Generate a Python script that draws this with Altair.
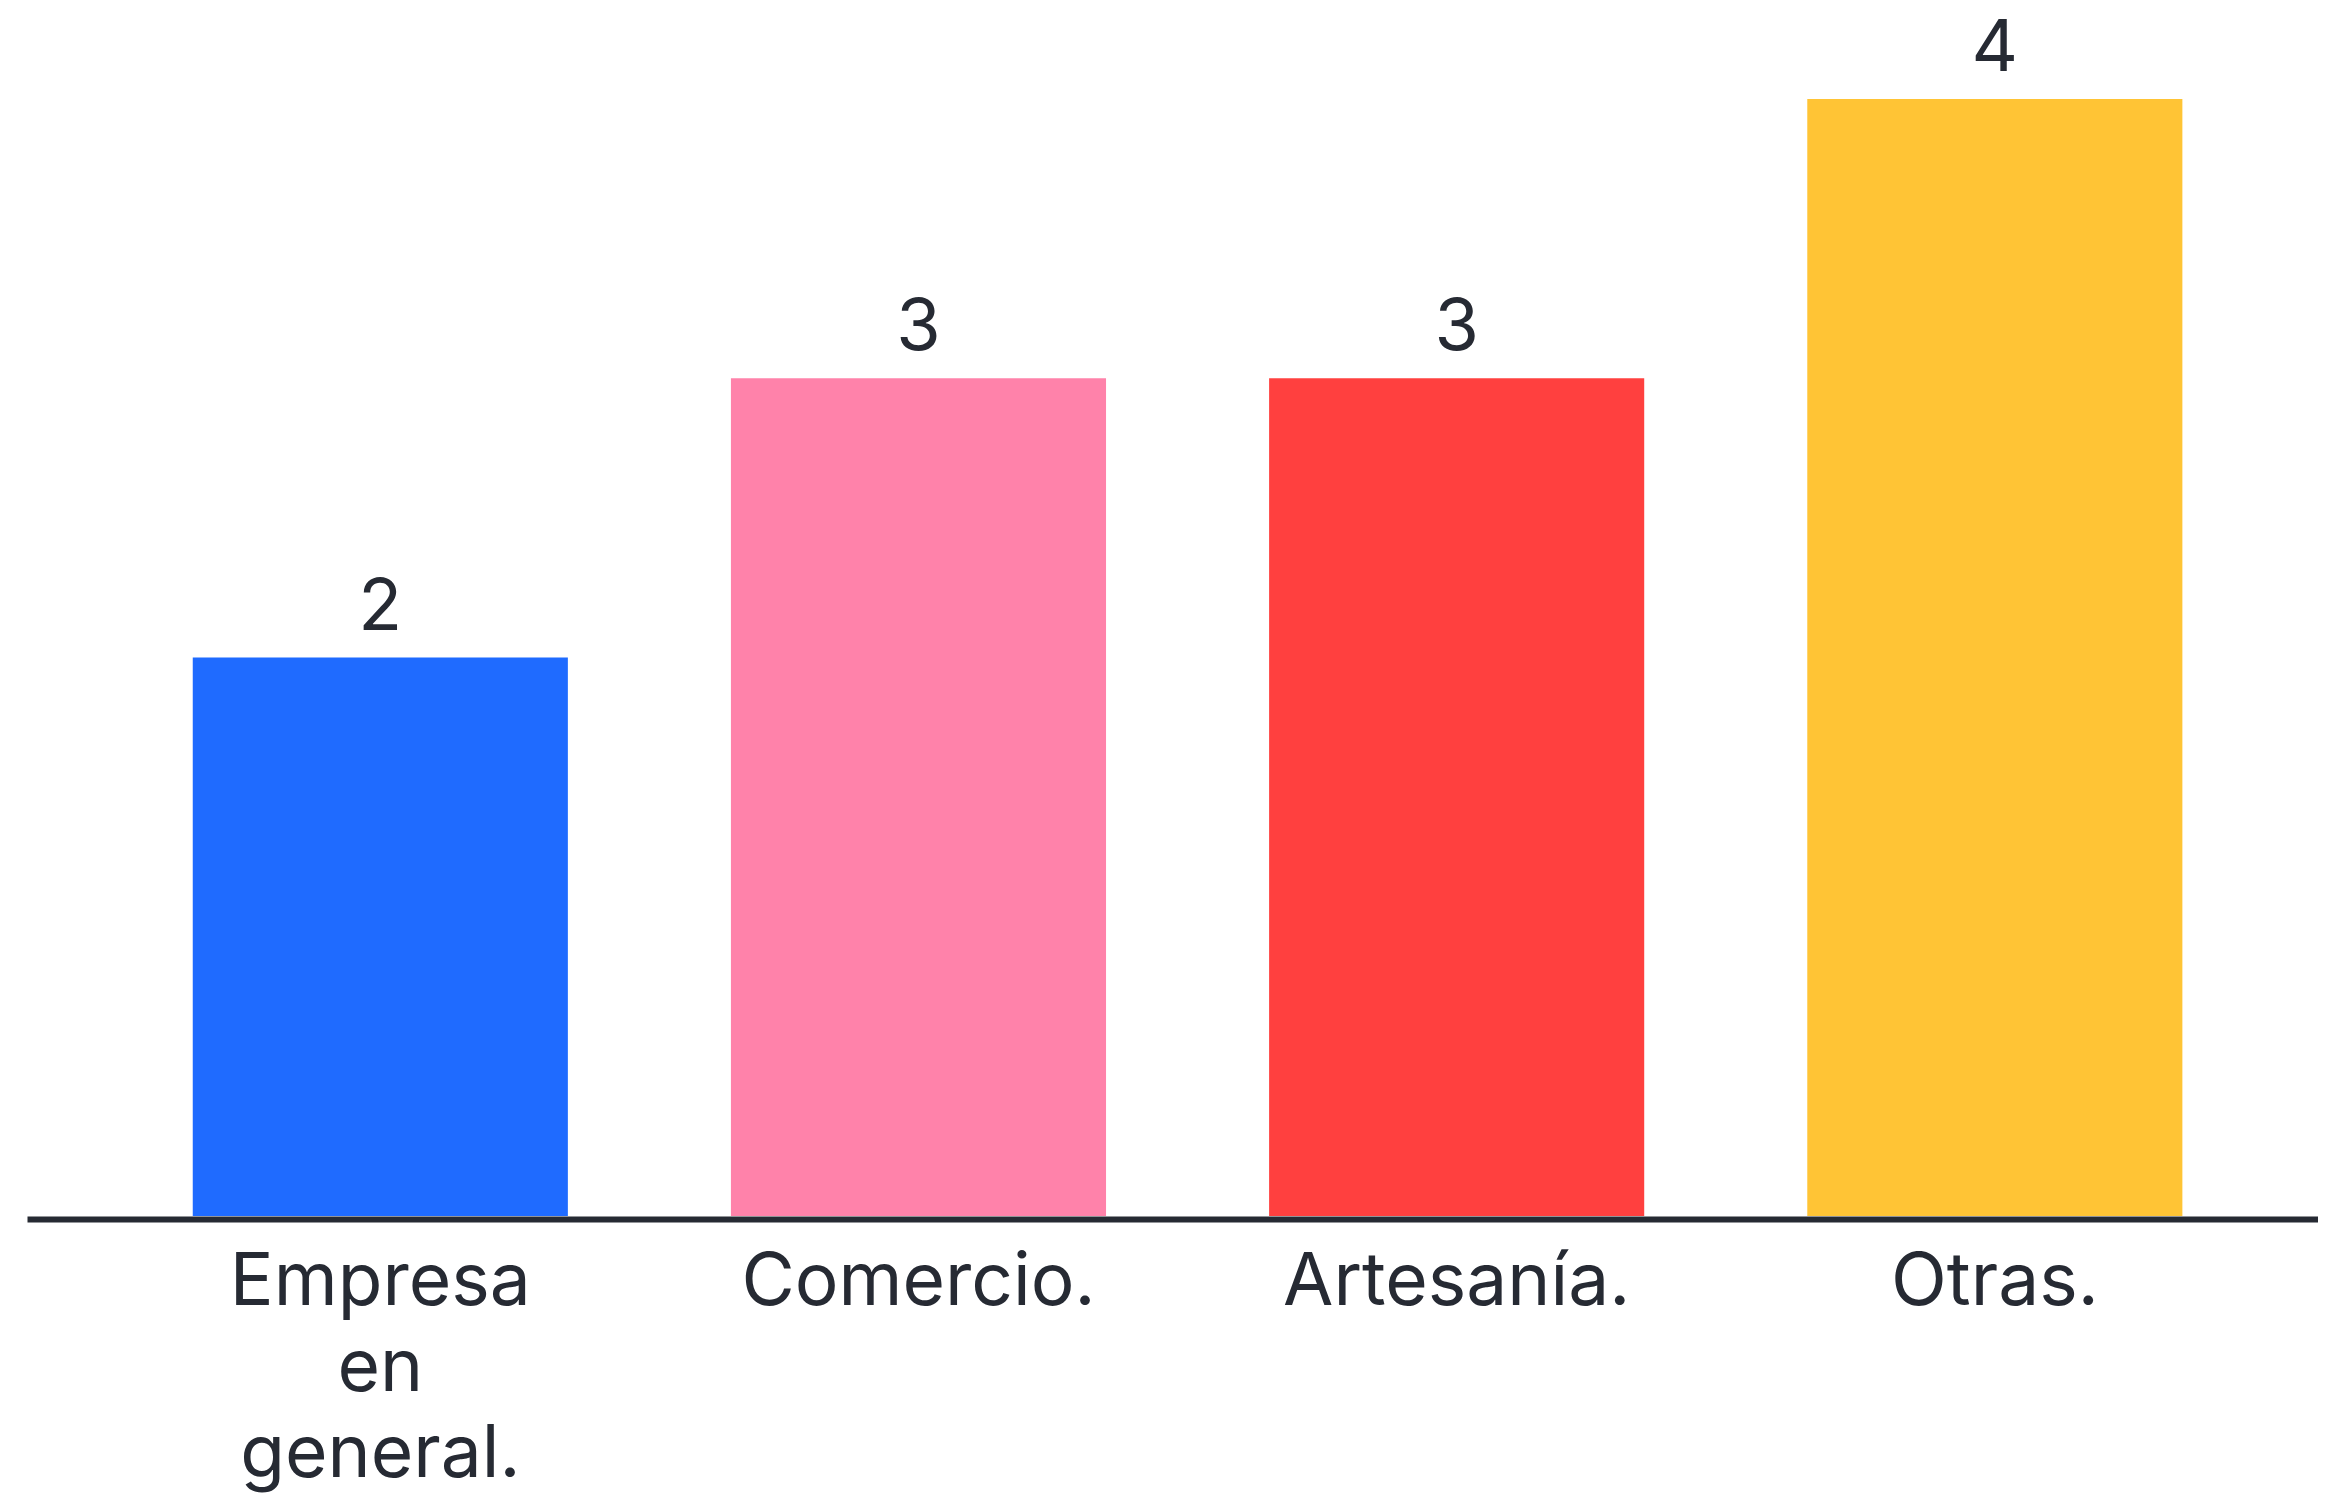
import altair as alt
import pandas as pd

categories = ["Empresa en general.", "Comercio.", "Artesanía.", "Otras."]
values = [2, 3, 3, 4]
colors = ["#1F6BFF", "#FF82AA", "#FF403F", "#FFC435"]

df = pd.DataFrame({"cat": categories, "val": values})

FONT = "Inter"
TEXT = "#262a33"

x = alt.X("cat:N", sort=categories,
          scale=alt.Scale(paddingInner=0.303, paddingOuter=0.28, align=0.55),
          axis=alt.Axis(title=None, ticks=False, domainColor=TEXT, domainWidth=6, offset=3,
                        labelAngle=0, labelFont=FONT, labelFontSize=73, labelColor=TEXT,
                        labelPadding=27, labelLineHeight=86, labelBaseline="top",
                        labelLimit=0,
                        labelExpr="split(datum.label, ' ')"))
y = alt.Y("val:Q", scale=alt.Scale(domain=[0, 4], nice=False), axis=None)

bars = alt.Chart(df).mark_bar().encode(
    x=x, y=y,
    color=alt.Color("cat:N", scale=alt.Scale(domain=categories, range=colors), legend=None),
)
labels = alt.Chart(df).mark_text(baseline="bottom", dy=-13, font=FONT, fontSize=72, color=TEXT).encode(
    x=alt.X("cat:N", sort=categories), y=y, text="val:Q"
)

chart = (bars + labels).properties(
    width=2291, height=1117,
    autosize=alt.AutoSizeParams(type="none"),
    padding={"left": 19, "top": 91, "right": 0, "bottom": 280},
).configure(background="white").configure_view(strokeWidth=0, stroke="transparent")

chart.save("out.html", embed_options={"renderer": "svg", "actions": False})
